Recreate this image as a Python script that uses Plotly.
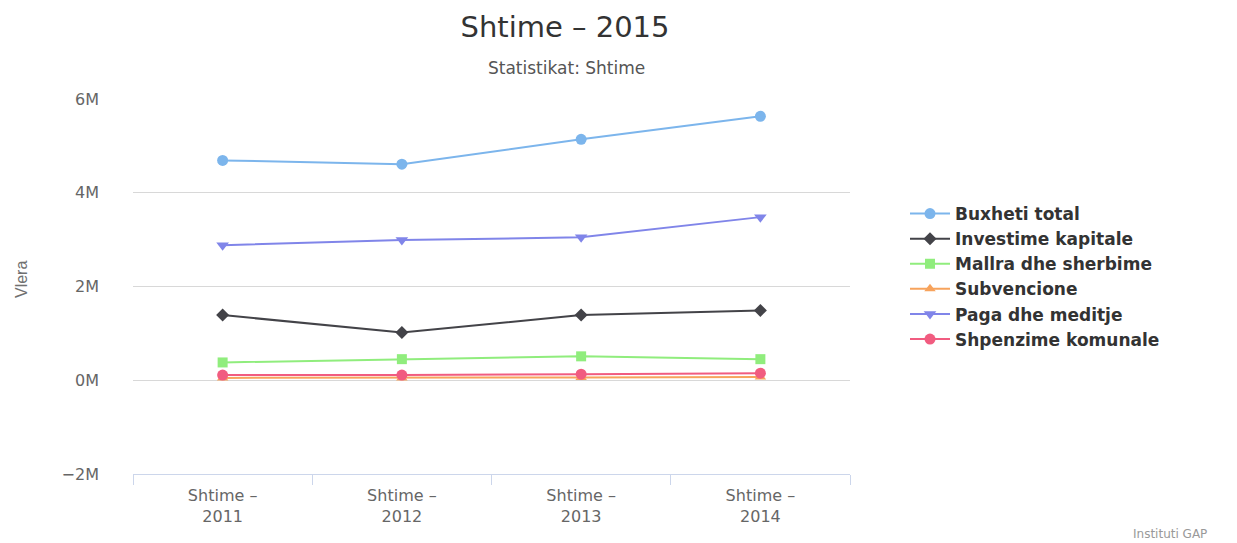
import plotly.graph_objects as go

categories = ["Shtime –<br>2011", "Shtime –<br>2012", "Shtime –<br>2013", "Shtime –<br>2014"]
series_names = ["Buxheti total", "Investime kapitale", "Mallra dhe sherbime",
                "Subvencione", "Paga dhe meditje", "Shpenzime komunale"]
buxheti_total = [4.69e6, 4.61e6, 5.14e6, 5.63e6]
investime_kapitale = [1.39e6, 1.02e6, 1.39e6, 1.49e6]
mallra_dhe_sherbime = [0.38e6, 0.45e6, 0.51e6, 0.45e6]
subvencione = [0.05e6, 0.05e6, 0.06e6, 0.07e6]
paga_dhe_meditje = [2.88e6, 2.99e6, 3.05e6, 3.48e6]
shpenzime_komunale = [0.11e6, 0.11e6, 0.13e6, 0.15e6]
ytick_vals = [-2e6, 0, 2e6, 4e6, 6e6]
ytick_text = ["−2M", "0M", "2M", "4M", "6M"]

values = [buxheti_total, investime_kapitale, mallra_dhe_sherbime,
          subvencione, paga_dhe_meditje, shpenzime_komunale]
colors = ["#7cb5ec", "#434348", "#90ed7d", "#f7a35c", "#8085e9", "#f15c80"]
symbols = ["circle", "diamond", "square", "triangle-up", "triangle-down", "circle"]
sizes = [11, 10, 10, 10, 11, 11]

fig = go.Figure()
for name, vals, c, s, sz in zip(series_names, values, colors, symbols, sizes):
    fig.add_trace(go.Scatter(
        x=categories, y=vals, name=name, mode="lines+markers",
        line=dict(color=c, width=2),
        marker=dict(color=c, symbol=s, size=sz),
    ))

# page body has an 8px margin; figure coordinates = screen coordinates - 8
H = 543
W = 1237
ML, MT = 125, 91
plot_w, plot_h = 717, 375
MR = W - ML - plot_w
MB = H - MT - plot_h


def px_x(x):
    return (x - ML) / plot_w


def px_y(y):
    return 1 - (y - MT) / plot_h


font_family = "DejaVu Sans, Verdana, sans-serif"
fig.update_layout(
    width=W, height=H,
    margin=dict(l=ML, r=MR, t=MT, b=MB, autoexpand=False),
    paper_bgcolor="white", plot_bgcolor="white",
    font=dict(family=font_family, color="#333333"),
    title=dict(text="Shtime – 2015", x=557 / W, xref="container", xanchor="center",
               y=1 - 19 / H, yref="container", yanchor="middle",
               font=dict(size=29, color="#333333", family=font_family)),
    legend=dict(x=px_x(897), xanchor="left", y=px_y(268.5), yanchor="middle",
                font=dict(size=17, color="#333333", family=font_family, weight="bold"),
                tracegroupgap=0, itemwidth=40, bgcolor="rgba(0,0,0,0)"),
    showlegend=True,
    xaxis=dict(type="category", range=[-0.5, 3.5], showgrid=False,
               showline=True, linecolor="#ccd6eb", linewidth=1,
               ticks="outside", tickson="boundaries", ticklen=10, tickcolor="#ccd6eb",
               ticklabelstandoff=7,
               tickfont=dict(size=16, color="#666666", family=font_family),
               zeroline=False, fixedrange=True, automargin=False),
    yaxis=dict(range=[-2e6, 6e6], tickvals=ytick_vals, ticktext=ytick_text,
               showgrid=True, gridcolor="#d8d8d8", gridwidth=1,
               zeroline=False, showline=False, automargin=False,
               tickfont=dict(size=16, color="#666666", family=font_family),
               ticks="", ticklabelstandoff=33),
    annotations=[
        dict(text="Statistikat: Shtime", x=px_x(558), xref="paper", xanchor="center",
             y=px_y(60), yref="paper", yanchor="middle", showarrow=False,
             font=dict(size=17, color="#555555", family=font_family)),
        dict(text="Vlera", x=px_x(13), xref="paper", xanchor="center",
             y=px_y(272), yref="paper", yanchor="middle", showarrow=False, textangle=-90,
             font=dict(size=16, color="#707070", family="Liberation Sans Narrow, Arial Narrow, sans-serif")),
        dict(text="Instituti GAP", x=px_x(1162), xref="paper", xanchor="center",
             y=px_y(526), yref="paper", yanchor="middle", showarrow=False,
             font=dict(size=12, color="#999999", family=font_family)),
    ],
)

fig.write_html("out.html")
